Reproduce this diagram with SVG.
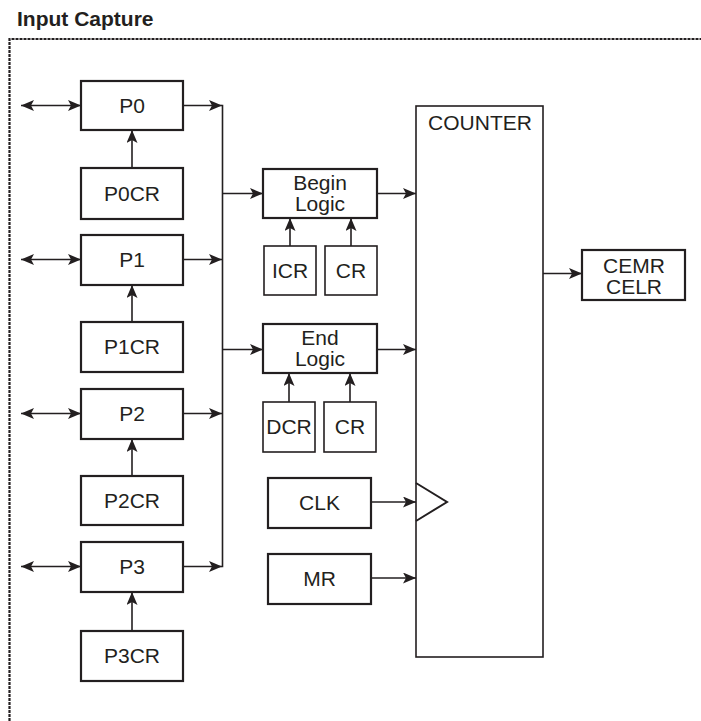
<svg xmlns="http://www.w3.org/2000/svg" width="701" height="721" viewBox="0 0 701 721">
<defs>
<style>
.box{fill:#fff;stroke:#231f20;stroke-width:2.2}
.sbox{fill:#fff;stroke:#231f20;stroke-width:1.6}
.t{font-family:"Liberation Sans",Arial,sans-serif;font-size:21px;fill:#231f20;text-anchor:middle}
.title{font-family:"Liberation Sans",Arial,sans-serif;font-size:21px;font-weight:bold;fill:#231f20}
.ln{fill:none;stroke:#231f20;stroke-width:1.6}
.arr{fill:none;stroke:#231f20;stroke-width:1.6;marker-end:url(#ah)}
.darr{fill:none;stroke:#231f20;stroke-width:1.6;marker-end:url(#ah);marker-start:url(#ah)}
</style>
<marker id="ah" markerUnits="userSpaceOnUse" markerWidth="14" markerHeight="12" refX="13" refY="5.5" orient="auto-start-reverse">
<path d="M0,0 L13,5.5 L0,11 L3,5.5 z" fill="#231f20"/>
</marker>
</defs>
<text class="title" x="17" y="26">Input Capture</text>
<path d="M9.5,721 V39 H701" fill="none" stroke="#231f20" stroke-width="2.2" stroke-dasharray="3 1"/>

<g id="connectors">
<path class="darr" d="M21,105.5 H81"/>
<path class="darr" d="M21,259.5 H81"/>
<path class="darr" d="M21,413.5 H81"/>
<path class="darr" d="M21,566.5 H81"/>
<path class="arr" d="M183,105.5 H222"/>
<path class="arr" d="M183,259.5 H222"/>
<path class="arr" d="M183,413.5 H222"/>
<path class="arr" d="M183,566.5 H222"/>
<path class="ln" d="M222.5,104.7 V567.3"/>
<path class="arr" d="M132,168 V130"/>
<path class="arr" d="M132,322 V285"/>
<path class="arr" d="M132,476 V439"/>
<path class="arr" d="M132,631 V592"/>
<path class="arr" d="M222.5,193.5 H263"/>
<path class="arr" d="M222.5,349.5 H263"/>
<path class="arr" d="M377,193.5 H416"/>
<path class="arr" d="M377,349.5 H416"/>
<path class="arr" d="M290,246 V218"/>
<path class="arr" d="M351,246 V218"/>
<path class="arr" d="M289,402 V373"/>
<path class="arr" d="M350,402 V373"/>
<path class="arr" d="M371,502 H416"/>
<path class="arr" d="M371,578 H416"/>
<path class="arr" d="M543,273.5 H582"/>
</g>

<g id="P0"><rect class="box" x="81" y="81" width="102" height="49"/><text class="t" x="132" y="113">P0</text></g>
<g id="P0CR"><rect class="box" x="81" y="168" width="102" height="51"/><text class="t" x="132" y="201">P0CR</text></g>
<g id="P1"><rect class="box" x="81" y="235" width="102" height="50"/><text class="t" x="132" y="267">P1</text></g>
<g id="P1CR"><rect class="box" x="81" y="322" width="102" height="50"/><text class="t" x="132" y="354">P1CR</text></g>
<g id="P2"><rect class="box" x="81" y="389" width="102" height="50"/><text class="t" x="132" y="421">P2</text></g>
<g id="P2CR"><rect class="box" x="81" y="476" width="102" height="49"/><text class="t" x="132" y="508">P2CR</text></g>
<g id="P3"><rect class="box" x="81" y="542" width="102" height="50"/><text class="t" x="132" y="574">P3</text></g>
<g id="P3CR"><rect class="box" x="81" y="631" width="102" height="50"/><text class="t" x="132" y="663">P3CR</text></g>

<g id="begin-logic"><rect class="box" x="263" y="169" width="114" height="49"/><text class="t" x="320" y="190">Begin</text><text class="t" x="320" y="211">Logic</text></g>
<g id="ICR"><rect class="sbox" x="264" y="246" width="52" height="49"/><text class="t" x="290" y="278">ICR</text></g>
<g id="CR1"><rect class="sbox" x="325" y="246" width="52" height="49"/><text class="t" x="351" y="278">CR</text></g>

<g id="end-logic"><rect class="box" x="263" y="324" width="114" height="49"/><text class="t" x="320" y="345">End</text><text class="t" x="320" y="366">Logic</text></g>
<g id="DCR"><rect class="sbox" x="263" y="402" width="52" height="50"/><text class="t" x="289" y="434">DCR</text></g>
<g id="CR2"><rect class="sbox" x="324" y="402" width="52" height="50"/><text class="t" x="350" y="434">CR</text></g>

<g id="CLK"><rect class="box" x="268" y="478" width="103" height="50"/><text class="t" x="319.5" y="510">CLK</text></g>
<g id="MR"><rect class="box" x="268" y="554" width="103" height="50"/><text class="t" x="319.5" y="586">MR</text></g>

<g id="counter"><rect class="sbox" x="416" y="106" width="127" height="551"/><text class="t" x="480" y="130">COUNTER</text><path d="M416,483 L447,502 L416,521" fill="none" stroke="#231f20" stroke-width="2"/></g>

<g id="CEMR-CELR"><rect class="box" x="582" y="250" width="103" height="50"/><text class="t" x="634" y="273">CEMR</text><text class="t" x="634" y="294">CELR</text></g>
</svg>
